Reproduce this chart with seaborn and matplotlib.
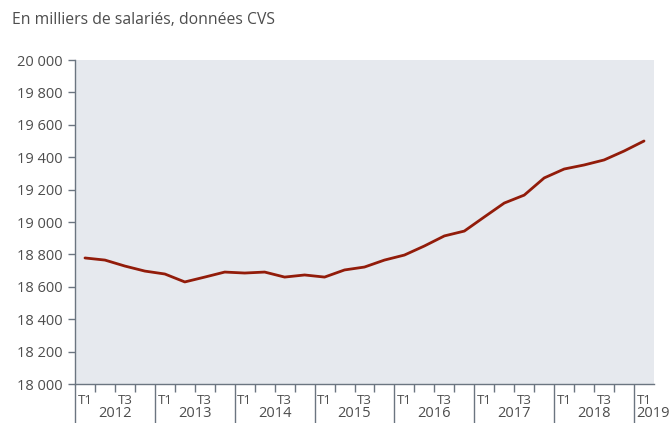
import numpy as np
import pandas as pd
import matplotlib
matplotlib.use("Agg")
import matplotlib.pyplot as plt
import seaborn as sns
from matplotlib.transforms import blended_transform_factory

# données : emploi salarié trimestriel (milliers, CVS), T1 2012 -> T1 2019
QUARTERS = [f"{y}T{q}" for y in range(2012, 2019) for q in range(1, 5)] + ["2019T1"]
VALUES = [18778, 18765, 18728, 18697,
          18679, 18630, 18660, 18691,
          18685, 18691, 18660, 18673,
          18660, 18704, 18722, 18765,
          18796, 18852, 18914, 18944,
          19031, 19117, 19166, 19272,
          19327, 19352, 19383, 19438,
          19500]
YEARS = ["2012", "2013", "2014", "2015", "2016", "2017", "2018", "2019"]
Y_TICKS = [18000, 18200, 18400, 18600, 18800, 19000, 19200, 19400, 19600, 19800, 20000]
Y_LABELS = ["18 000", "18 200", "18 400", "18 600", "18 800", "19 000",
            "19 200", "19 400", "19 600", "19 800", "20 000"]
TITLE = "En milliers de salariés, données CVS"

TEXT = "#4d4d4d"
BG = "#e6e9ee"
LINE = "#921c0a"
AXIS = "#6b7580"

sns.set_style("white")
plt.rcParams["font.family"] = ["Open Sans", "DejaVu Sans"]

df = pd.DataFrame({"trimestre": QUARTERS, "valeur": VALUES})
df["pos"] = np.arange(len(df)) + 0.5  # milieu du trimestre

W, H = 672, 423
fig = plt.figure(figsize=(W / 100, H / 100), dpi=100)
ax = fig.add_axes([75 / W, 1 - 384 / H, (654 - 75) / W, (384 - 60) / H])
ax.set_facecolor(BG)

sns.lineplot(data=df, x="pos", y="valeur", color=LINE, linewidth=2.0, ax=ax)

ax.set_xlim(0, len(df))
ax.set_ylim(18000, 20000)
ax.set_xlabel("")
ax.set_ylabel("")

# axe y
ax.set_yticks(Y_TICKS)
ax.set_yticklabels(Y_LABELS)
ax.tick_params(axis="y", left=True, length=5, width=1, color=AXIS,
               labelsize=10.5, labelcolor=TEXT, pad=4)

# axe x : séparateurs d'années (longs) et trimestres (courts)
ax.set_xticks(np.arange(0, len(df), 4))
ax.set_xticks(np.arange(0, len(df), 1), minor=True)
ax.set_xticklabels([])
ax.tick_params(axis="x", which="major", bottom=True, length=29, width=1, color=AXIS)
ax.tick_params(axis="x", which="minor", bottom=True, length=6, width=1, color=AXIS)

for s in ["top", "right"]:
    ax.spines[s].set_visible(False)
for s in ["left", "bottom"]:
    ax.spines[s].set_color(AXIS)
    ax.spines[s].set_linewidth(1)

trans = blended_transform_factory(ax.transData, fig.transFigure)
y_tq = 1 - 400 / H
y_yr = 1 - 413 / H
for i, yr in enumerate(YEARS):
    x0 = i * 4
    ax.text(x0 + 0.5, y_tq, "T1", transform=trans, ha="center", va="center",
            fontsize=9.5, color=TEXT, clip_on=False)
    if x0 + 2 < len(df):
        ax.text(x0 + 2.5, y_tq, "T3", transform=trans, ha="center", va="center",
                fontsize=9.5, color=TEXT, clip_on=False)
        ax.text(x0 + 2, y_yr, yr, transform=trans, ha="center", va="center",
                fontsize=10.5, color=TEXT, clip_on=False)
    else:
        ax.text(x0 + 0.1, y_yr, yr, transform=trans, ha="left", va="center",
                fontsize=10.5, color=TEXT, clip_on=False)

fig.text(12 / W, 1 - 20 / H, TITLE, ha="left", va="center", fontsize=11.3, color=TEXT)

fig.savefig("out.png", dpi=100)
